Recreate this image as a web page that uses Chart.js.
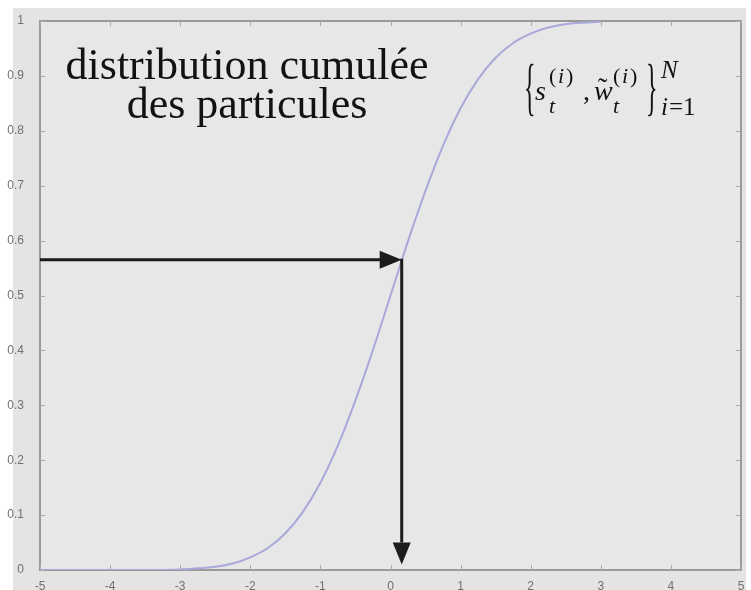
<!DOCTYPE html>
<html>
<head>
<meta charset="utf-8">
<script src="https://cdn.jsdelivr.net/npm/chart.js@4/dist/chart.umd.min.js"></script>
<style>
  html, body { margin: 0; padding: 0; background: #fff; }
  canvas { display: block; }
</style>
</head>
<body>
<canvas id="chart" width="751" height="590"></canvas>
<script>
// cumulative distribution of the particles, sampled along x
const xValues = [-5, -4.5, -4, -3.5, -3, -2.75, -2.5, -2.25, -2, -1.75, -1.5, -1.25, -1, -0.75, -0.5, -0.25, 0, 0.25, 0.5, 0.75, 1, 1.25, 1.5, 1.75, 2, 2.25, 2.5, 2.75, 3];
const cdfValues = [0, 0, 0, 0, 0.001, 0.003, 0.006, 0.012, 0.023, 0.04, 0.067, 0.106, 0.159, 0.227, 0.309, 0.401, 0.5, 0.599, 0.691, 0.773, 0.841, 0.894, 0.933, 0.96, 0.977, 0.988, 0.994, 0.997, 0.999];

const xTickLabels = ['-5', '-4', '-3', '-2', '-1', '0', '1', '2', '3', '4', '5'];
const yTickLabels = ['0', '0.1', '0.2', '0.3', '0.4', '0.5', '0.6', '0.7', '0.8', '0.9', '1'];

// sampled point: a uniform draw on y, read back on x
const drawnY = 0.565;
const drawnX = 0.16;
const arrowStopY = 0.01;

const titleLines = ['distribution cumulée', 'des particules'];

const axisGray = '#9a9a9a';
const plotGray = '#e7e7e7';

Chart.defaults.font.family = '"Liberation Sans", Arial, sans-serif';
Chart.defaults.font.size = 12;
Chart.defaults.color = '#707070';

function arrowHead(ctx, tipX, tipY, dirX, dirY, len, half) {
    const bx = tipX - dirX * len, by = tipY - dirY * len;
    ctx.beginPath();
    ctx.moveTo(tipX, tipY);
    ctx.lineTo(bx - dirY * half, by + dirX * half);
    ctx.lineTo(bx + dirY * half, by - dirX * half);
    ctx.closePath();
    ctx.fill();
}

const backdrop = {
    id: 'backdrop',
    beforeDraw(chart) {
        const ctx = chart.ctx;
        ctx.save();
        ctx.fillStyle = '#ffffff';
        ctx.fillRect(0, 0, chart.width, chart.height);
        ctx.fillStyle = '#e4e4e4';
        ctx.fillRect(13, 8, 733, chart.height - 8);
        const a = chart.chartArea;
        ctx.fillStyle = plotGray;
        ctx.fillRect(a.left, a.top, a.right - a.left, a.bottom - a.top);
        ctx.restore();
    },
    // box with inward ticks on all four sides, under the curve
    beforeDatasetsDraw(chart) {
        const ctx = chart.ctx;
        const a = chart.chartArea;
        const xs = chart.scales.x, ys = chart.scales.y;
        ctx.save();
        ctx.strokeStyle = axisGray;
        ctx.lineWidth = 2;
        ctx.strokeRect(a.left, a.top, a.right - a.left, a.bottom - a.top);
        ctx.lineWidth = 1;
        ctx.strokeStyle = '#aaaaaa';
        ctx.beginPath();
        xs.ticks.forEach(t => {
            const px = Math.round(xs.getPixelForValue(t.value)) + 0.5;
            ctx.moveTo(px, a.bottom); ctx.lineTo(px, a.bottom - 5);
            ctx.moveTo(px, a.top); ctx.lineTo(px, a.top + 5);
        });
        ys.ticks.forEach(t => {
            const py = Math.round(ys.getPixelForValue(t.value)) + 0.5;
            ctx.moveTo(a.left, py); ctx.lineTo(a.left + 5, py);
            ctx.moveTo(a.right, py); ctx.lineTo(a.right - 5, py);
        });
        ctx.stroke();
        ctx.restore();
    }
};

const arrows = {
    id: 'arrows',
    afterDatasetsDraw(chart) {
        const ctx = chart.ctx;
        const a = chart.chartArea;
        const xs = chart.scales.x, ys = chart.scales.y;
        // across to the curve, then down to the x axis
        const px = xs.getPixelForValue(drawnX);
        const py = ys.getPixelForValue(drawnY);
        const stopY = ys.getPixelForValue(arrowStopY);
        ctx.save();
        ctx.strokeStyle = '#1c1c1c';
        ctx.fillStyle = '#1c1c1c';
        ctx.lineWidth = 3;
        ctx.beginPath();
        ctx.moveTo(a.left, py);
        ctx.lineTo(px - 20, py);
        ctx.moveTo(px, py - 1);
        ctx.lineTo(px, stopY - 22);
        ctx.stroke();
        arrowHead(ctx, px, py, 1, 0, 22, 9);
        arrowHead(ctx, px, stopY, 0, 1, 22, 9);
        ctx.restore();
    }
};

const annotations = {
    id: 'annotations',
    afterDraw(chart) {
        const ctx = chart.ctx;
        ctx.save();
        ctx.fillStyle = '#121212';
        ctx.textAlign = 'center';
        ctx.textBaseline = 'alphabetic';
        ctx.font = '44px "Liberation Serif", serif';
        ctx.fillText(titleLines[0], 247, 79);
        ctx.fillText(titleLines[1], 247, 118);

        // {s_t^(i), w~_t^(i)}_{i=1}^N
        const big = '28px "Liberation Serif", serif';
        const bigIt = 'italic 28px "Liberation Serif", serif';
        const smallIt = 'italic 22px "Liberation Serif", serif';
        const small = '22px "Liberation Serif", serif';
        ctx.textAlign = 'left';

        ctx.save();
        ctx.font = '30px "Liberation Serif", serif';
        ctx.translate(524, 108);
        ctx.scale(0.8, 2.1);
        ctx.fillText('{', 0, 0);
        ctx.restore();

        ctx.font = bigIt; ctx.fillText('s', 535, 100);
        ctx.font = smallIt; ctx.fillText('t', 549, 113);
        ctx.font = small; ctx.fillText('(', 549, 83);
        ctx.font = smallIt; ctx.fillText('i', 558, 83);
        ctx.font = small; ctx.fillText(')', 566, 83);
        ctx.font = big; ctx.fillText(',', 583, 100);
        ctx.font = bigIt; ctx.fillText('w', 594, 100);
        ctx.font = big; ctx.fillText('˜', 598, 97);
        ctx.font = smallIt; ctx.fillText('t', 613, 113);
        ctx.font = small; ctx.fillText('(', 613, 83);
        ctx.font = smallIt; ctx.fillText('i', 622, 83);
        ctx.font = small; ctx.fillText(')', 630, 83);

        ctx.save();
        ctx.font = '30px "Liberation Serif", serif';
        ctx.translate(646, 108);
        ctx.scale(0.8, 2.1);
        ctx.fillText('}', 0, 0);
        ctx.restore();

        ctx.font = 'italic 25px "Liberation Serif", serif';
        ctx.fillText('N', 661, 78);
        ctx.fillText('i', 661, 115);
        ctx.font = '25px "Liberation Serif", serif';
        ctx.fillText('=1', 669, 115);
        ctx.restore();
    }
};

new Chart(document.getElementById('chart'), {
    type: 'line',
    data: {
        datasets: [{
            data: xValues.map((x, i) => ({ x: x, y: cdfValues[i] })),
            borderColor: '#a8a8da',
            borderWidth: 2,
            pointRadius: 0,
            fill: false,
            cubicInterpolationMode: 'monotone'
        }]
    },
    options: {
        responsive: false,
        animation: false,
        events: [],
        layout: { padding: { top: 21, right: 10, left: 0, bottom: 0 } },
        plugins: {
            legend: { display: false },
            tooltip: { enabled: false },
            title: { display: false }
        },
        scales: {
            x: {
                type: 'linear',
                min: -5,
                max: 5,
                grid: { display: false },
                border: { display: false },
                ticks: {
                    stepSize: 1,
                    padding: 1,
                    maxRotation: 0,
                    autoSkip: false,
                    callback: (v) => xTickLabels[Math.round(v + 5)]
                },
                afterFit: (s) => { s.height = 20; }
            },
            y: {
                type: 'linear',
                min: 0,
                max: 1,
                grid: { display: false },
                border: { display: false },
                ticks: {
                    stepSize: 0.1,
                    padding: 8,
                    autoSkip: false,
                    callback: (v) => yTickLabels[Math.round(v * 10)]
                },
                afterFit: (s) => { s.width = 40; }
            }
        }
    },
    plugins: [backdrop, arrows, annotations]
});
</script>
</body>
</html>
